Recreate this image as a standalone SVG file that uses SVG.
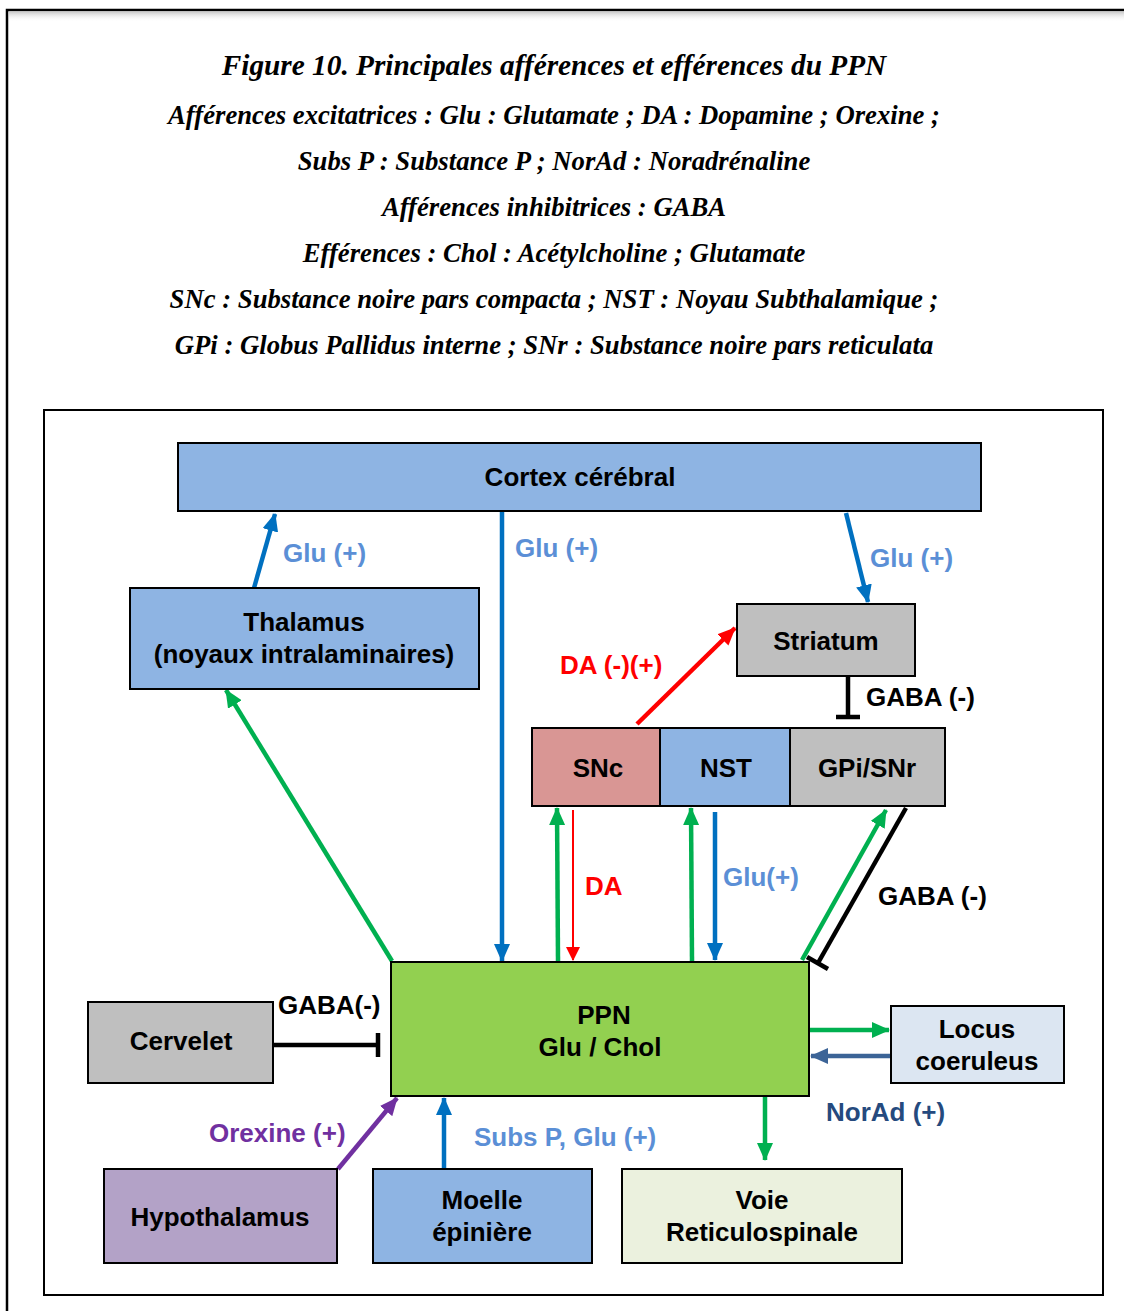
<svg xmlns="http://www.w3.org/2000/svg" width="1124" height="1311" viewBox="0 0 1124 1311">
<defs>
<style>
.cap{font-family:"Liberation Serif","Times New Roman",serif;font-weight:bold;font-style:italic;font-size:26.7px;fill:#000;text-anchor:middle}
.box{stroke:#000;stroke-width:2}
.t{font-family:"Liberation Sans",Arial,sans-serif;font-weight:bold;font-size:26px;fill:#000;text-anchor:middle}
.l{font-family:"Liberation Sans",Arial,sans-serif;font-weight:bold;font-size:26px}
.lb{fill:#5b8fd6}
.ln{fill:none;stroke-width:4.5}
</style>
<marker id="ab" markerUnits="userSpaceOnUse" viewBox="0 0 18 16" refX="17" refY="8" markerWidth="18" markerHeight="16" orient="auto"><path d="M0,0L18,8L0,16z" fill="#0070c0"/></marker>
<marker id="ag" markerUnits="userSpaceOnUse" viewBox="0 0 18 16" refX="17" refY="8" markerWidth="18" markerHeight="16" orient="auto"><path d="M0,0L18,8L0,16z" fill="#00b050"/></marker>
<marker id="ar" markerUnits="userSpaceOnUse" viewBox="0 0 18 16" refX="17" refY="8" markerWidth="18" markerHeight="16" orient="auto"><path d="M0,0L18,8L0,16z" fill="#ff0000"/></marker>
<marker id="ar2" markerUnits="userSpaceOnUse" viewBox="0 0 14 14" refX="13" refY="7" markerWidth="14" markerHeight="14" orient="auto"><path d="M0,0L14,7L0,14z" fill="#ff0000"/></marker>
<marker id="ap" markerUnits="userSpaceOnUse" viewBox="0 0 18 16" refX="17" refY="8" markerWidth="18" markerHeight="16" orient="auto"><path d="M0,0L18,8L0,16z" fill="#7030a0"/></marker>
<marker id="ad" markerUnits="userSpaceOnUse" viewBox="0 0 18 16" refX="17" refY="8" markerWidth="18" markerHeight="16" orient="auto"><path d="M0,0L18,8L0,16z" fill="#3c6497"/></marker>
<linearGradient id="sh" x1="0" y1="0" x2="0" y2="1"><stop offset="0" stop-color="#ccc"/><stop offset="1" stop-color="#fff" stop-opacity="0"/></linearGradient>
</defs>
<rect width="1124" height="1311" fill="#fff"/>
<rect x="9" y="12" width="1115" height="10" fill="url(#sh)"/>
<path d="M7,1311V10H1124" fill="none" stroke="#000" stroke-width="2.5"/>
<g id="caption">
<text class="cap" x="554" y="75" style="font-size:29.3px">Figure 10. Principales afférences et efférences du PPN</text>
<text class="cap" x="554" y="124">Afférences excitatrices : Glu : Glutamate ; DA : Dopamine ; Orexine ;</text>
<text class="cap" x="554" y="170">Subs P : Substance P ; NorAd : Noradrénaline</text>
<text class="cap" x="554" y="216">Afférences inhibitrices : GABA</text>
<text class="cap" x="554" y="262">Efférences : Chol : Acétylcholine ; Glutamate</text>
<text class="cap" x="554" y="308">SNc : Substance noire pars compacta ; NST : Noyau Subthalamique ;</text>
<text class="cap" x="554" y="354">GPi : Globus Pallidus interne ; SNr : Substance noire pars reticulata</text>
</g>
<rect x="44" y="410" width="1059" height="885" fill="#fff" stroke="#000" stroke-width="2"/>
<g id="connectors">
<line class="ln" x1="254" y1="588" x2="275" y2="514" stroke="#0070c0" marker-end="url(#ab)"/>
<line class="ln" x1="502" y1="511" x2="502" y2="961" stroke="#0070c0" marker-end="url(#ab)"/>
<line class="ln" x1="846" y1="513" x2="868" y2="602" stroke="#0070c0" marker-end="url(#ab)"/>
<line class="ln" x1="637" y1="724" x2="735" y2="628" stroke="#ff0000" marker-end="url(#ar)"/>
<line class="ln" x1="848" y1="676" x2="848" y2="717" stroke="#000"/>
<line x1="836" y1="717" x2="860" y2="717" stroke="#000" stroke-width="4.5"/>
<line class="ln" x1="392" y1="961" x2="226" y2="690" stroke="#00b050" marker-end="url(#ag)"/>
<line class="ln" x1="558" y1="961" x2="557" y2="808" stroke="#00b050" marker-end="url(#ag)"/>
<line x1="573" y1="810" x2="573" y2="960" stroke="#ff0000" stroke-width="2" marker-end="url(#ar2)"/>
<line class="ln" x1="692" y1="961" x2="691" y2="808" stroke="#00b050" marker-end="url(#ag)"/>
<line class="ln" x1="715" y1="812" x2="715" y2="960" stroke="#0070c0" marker-end="url(#ab)"/>
<line class="ln" x1="802" y1="960" x2="886" y2="810" stroke="#00b050" marker-end="url(#ag)"/>
<line class="ln" x1="906" y1="808" x2="818" y2="963" stroke="#000"/>
<line x1="807" y1="957" x2="828" y2="969" stroke="#000" stroke-width="4.5"/>
<line class="ln" x1="273" y1="1045" x2="378" y2="1045" stroke="#000"/>
<line x1="378" y1="1033" x2="378" y2="1057" stroke="#000" stroke-width="4.5"/>
<line class="ln" x1="810" y1="1030" x2="889" y2="1030" stroke="#00b050" marker-end="url(#ag)"/>
<line class="ln" x1="891" y1="1056" x2="811" y2="1056" stroke="#3c6497" marker-end="url(#ad)"/>
<line class="ln" x1="765" y1="1097" x2="765" y2="1160" stroke="#00b050" marker-end="url(#ag)"/>
<line class="ln" x1="338" y1="1169" x2="397" y2="1098" stroke="#7030a0" marker-end="url(#ap)"/>
<line class="ln" x1="444" y1="1169" x2="444" y2="1098" stroke="#0070c0" marker-end="url(#ab)"/>
<text class="l lb" x="283" y="562">Glu (+)</text>
<text class="l lb" x="515" y="557">Glu (+)</text>
<text class="l lb" x="870" y="567">Glu (+)</text>
<text class="l" x="560" y="674" fill="#ff0000">DA (-)(+)</text>
<text class="l" x="866" y="706" fill="#000">GABA (-)</text>
<text class="l" x="585" y="895" fill="#ff0000">DA</text>
<text class="l lb" x="723" y="886">Glu(+)</text>
<text class="l" x="878" y="905" fill="#000">GABA (-)</text>
<text class="l" x="278" y="1014" fill="#000">GABA(-)</text>
<text class="l" x="826" y="1121" fill="#254a7e">NorAd (+)</text>
<text class="l" x="209" y="1142" fill="#7030a0">Orexine (+)</text>
<text class="l lb" x="474" y="1146">Subs P, Glu (+)</text>
</g>
<g id="cortex"><rect class="box" x="178" y="443" width="803" height="68" fill="#8eb4e3"/><text class="t" x="580" y="486">Cortex cérébral</text></g>
<g id="thalamus"><rect class="box" x="130" y="588" width="349" height="101" fill="#8eb4e3"/><text class="t" x="304" y="631">Thalamus</text><text class="t" x="304" y="663">(noyaux intralaminaires)</text></g>
<g id="striatum"><rect class="box" x="737" y="604" width="178" height="72" fill="#bfbfbf"/><text class="t" x="826" y="650">Striatum</text></g>
<g id="snc"><rect class="box" x="532" y="728" width="128" height="78" fill="#d99694"/><text class="t" x="598" y="777">SNc</text></g>
<g id="nst"><rect class="box" x="660" y="728" width="130" height="78" fill="#8eb4e3"/><text class="t" x="726" y="777">NST</text></g>
<g id="gpi"><rect class="box" x="790" y="728" width="155" height="78" fill="#bfbfbf"/><text class="t" x="867" y="777">GPi/SNr</text></g>
<g id="ppn"><rect class="box" x="391" y="962" width="418" height="134" fill="#92d050"/><text class="t" x="604" y="1024">PPN</text><text class="t" x="600" y="1056">Glu / Chol</text></g>
<g id="cervelet"><rect class="box" x="88" y="1002" width="185" height="81" fill="#bfbfbf"/><text class="t" x="181" y="1050">Cervelet</text></g>
<g id="locus"><rect class="box" x="891" y="1006" width="173" height="77" fill="#dce6f2"/><text class="t" x="977" y="1038">Locus</text><text class="t" x="977" y="1070">coeruleus</text></g>
<g id="hypothalamus"><rect class="box" x="104" y="1169" width="233" height="94" fill="#b3a2c7"/><text class="t" x="220" y="1226">Hypothalamus</text></g>
<g id="moelle"><rect class="box" x="373" y="1169" width="219" height="94" fill="#8eb4e3"/><text class="t" x="482" y="1209">Moelle</text><text class="t" x="482" y="1241">épinière</text></g>
<g id="voie"><rect class="box" x="622" y="1169" width="280" height="94" fill="#ebf1de"/><text class="t" x="762" y="1209">Voie</text><text class="t" x="762" y="1241">Reticulospinale</text></g>
</svg>
